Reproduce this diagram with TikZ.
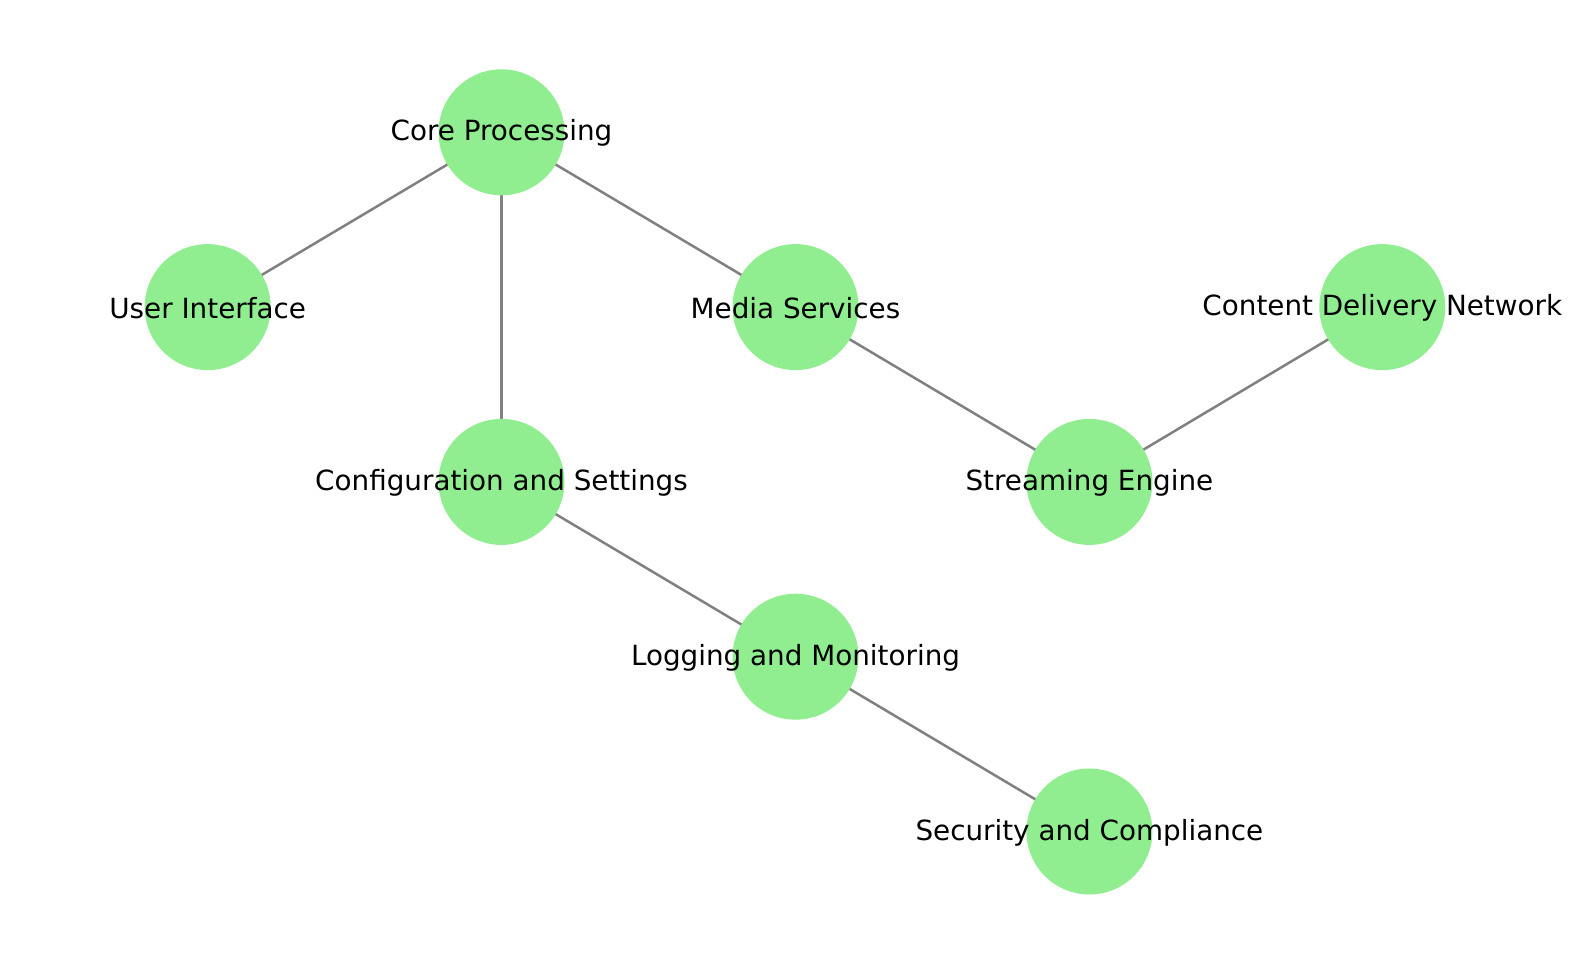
\documentclass[tikz,border=0pt]{standalone}
\usepackage{fontspec}
\setmainfont{DejaVu Sans}
\usetikzlibrary{backgrounds}
\definecolor{nodeGreen}{HTML}{90EE90}
\definecolor{edgeGray}{HTML}{808080}

\begin{document}
\begin{tikzpicture}[x=1pt,y=-1pt,
  comp/.style={circle,fill=nodeGreen,minimum size=126pt,inner sep=0pt},
  lbl/.style={font=\fontsize{27.8}{33}\selectfont,inner sep=0pt,text=black,yshift=-1pt},
  link/.style={draw=edgeGray,line width=2.5pt}]
  \useasboundingbox (0,0) rectangle (1589,964);
  \node[comp,label={[lbl]center:Core Processing}] (core) at (501.5,132.3) {};
  \node[comp,label={[lbl]center:User Interface}] (ui) at (207.7,307.1) {};
  \node[comp,label={[lbl]center:Media Services}] (media) at (795.5,307.1) {};
  \node[comp,label={[lbl]center:Content Delivery Network}] (cdn) at (1382.3,307.1) {};
  \node[comp,label={[lbl]center:Configuration and Settings}] (config) at (501.5,481.9) {};
  \node[comp,label={[lbl]center:Streaming Engine}] (stream) at (1089.4,481.9) {};
  \node[comp,label={[lbl]center:Logging and Monitoring}] (logging) at (795.5,656.7) {};
  \node[comp,label={[lbl]center:Security and Compliance}] (security) at (1089.4,831.5) {};
  \begin{scope}[on background layer]
    \foreach \a/\b in {core/ui,core/config,core/media,media/stream,stream/cdn,config/logging,logging/security}
      {\draw[link] (\a.center) -- (\b.center);}
  \end{scope}
\end{tikzpicture}
\end{document}
